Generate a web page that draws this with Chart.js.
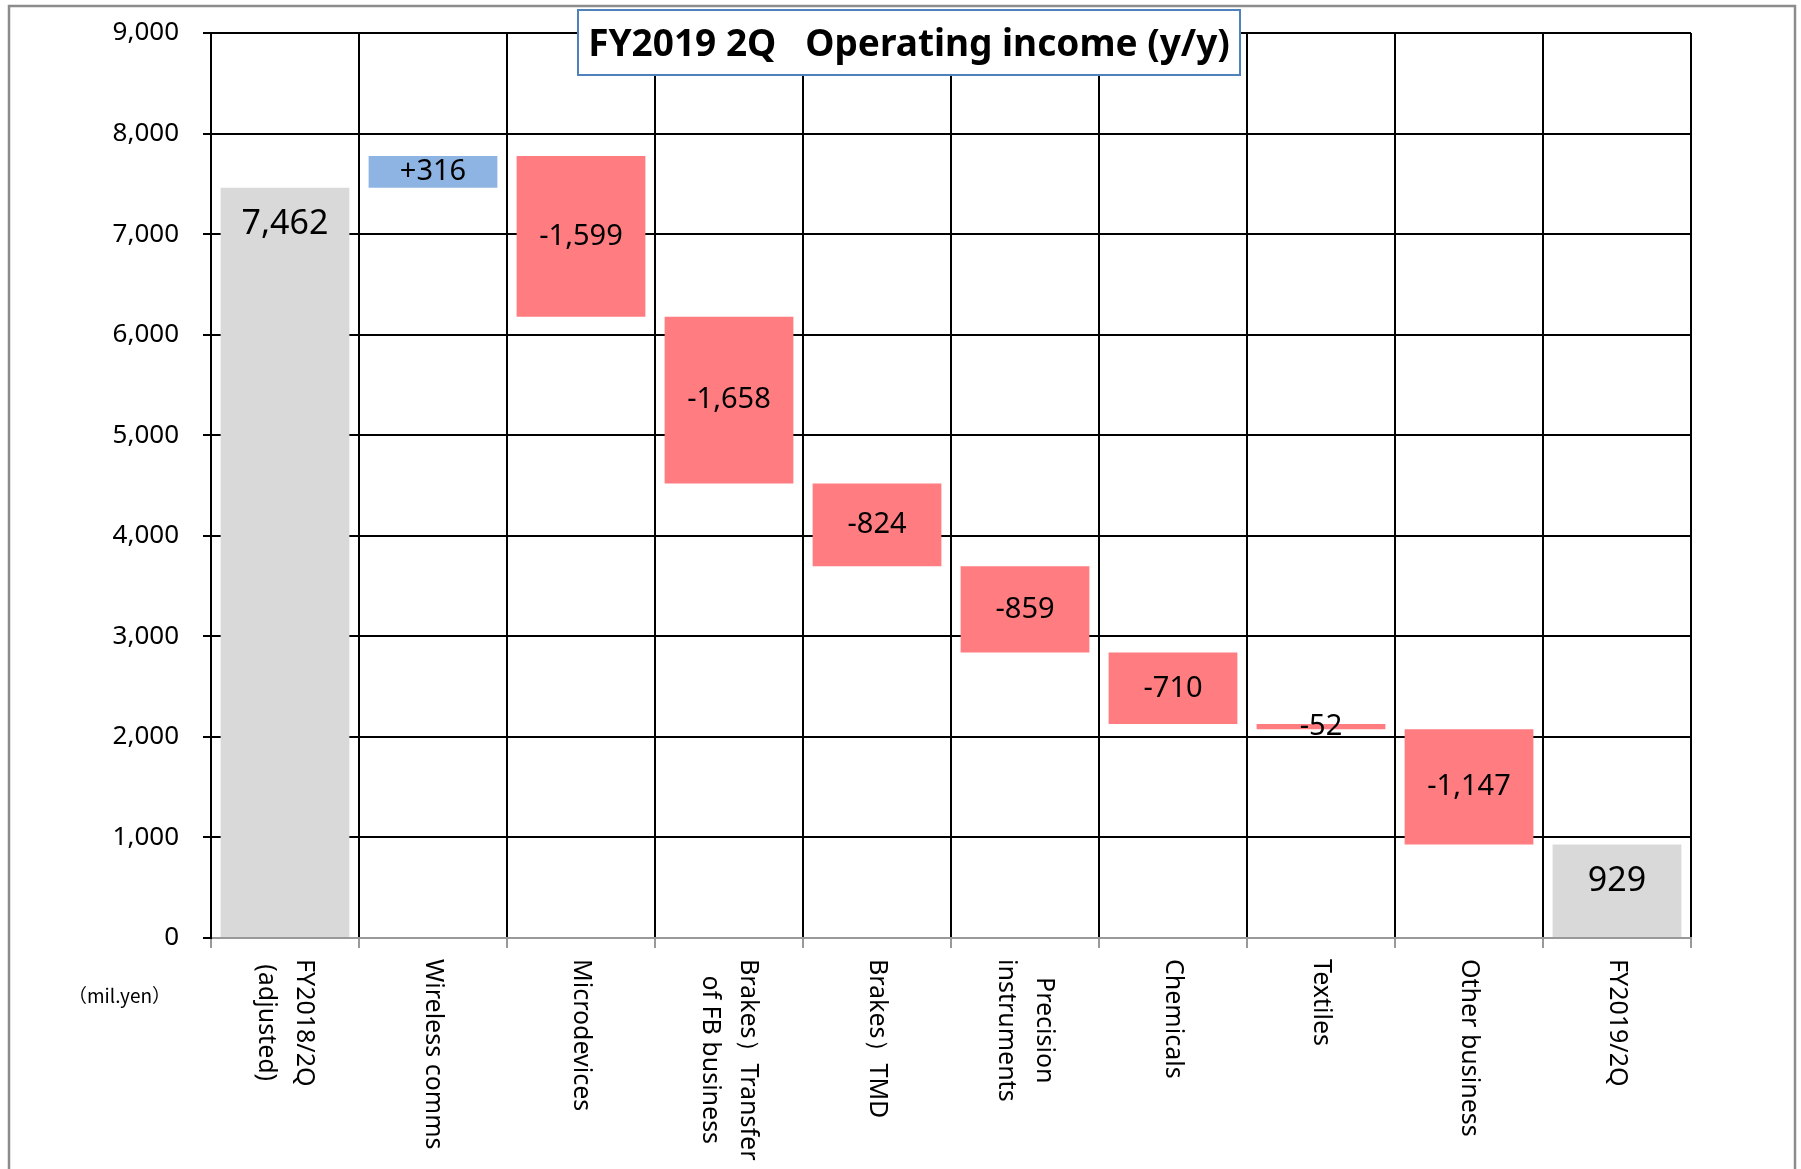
<!DOCTYPE html>
<html>
<head>
<meta charset="utf-8">
<script src="https://cdn.jsdelivr.net/npm/chart.js@4.4.1/dist/chart.umd.min.js"></script>
<style>
  html,body{margin:0;padding:0;background:#fff;}
  #wrap{width:1801px;height:1169px;position:relative;}
</style>
</head>
<body>
<div id="wrap"><canvas id="wf" width="1801" height="1169"></canvas></div>
<script>
// 카테고리 / 값
const categories=[['FY2018/2Q','(adjusted)'],['Wireless comms'],['Microdevices'],['Brakes）Transfer','of FB business'],['Brakes）TMD'],['Precision','instruments'],['Chemicals'],['Textiles'],['Other business'],['FY2019/2Q']];
const values=[7462,316,-1599,-1658,-824,-859,-710,-52,-1147,929];
const isTotal=[true,false,false,false,false,false,false,false,false,true];
const yTicks=[0,1000,2000,3000,4000,5000,6000,7000,8000,9000];

const GREY='#D9D9D9',BLUE='#8DB4E2',RED='#FF7C80';
const FONT='"Noto Sans", "Open Sans", sans-serif';

// 워터폴 구간
let run=0;
const ranges=values.map((v,i)=>{
  if(isTotal[i]){run=v;return [0,v];}
  const r=[run,run+v];run+=v;return [Math.min(r[0],r[1]),Math.max(r[0],r[1])];
});
const colors=values.map((v,i)=>isTotal[i]?GREY:(v>0?BLUE:RED));
const labelTxt=values.map((v,i)=>isTotal[i]?v.toLocaleString('en-US'):(v>0?'+':'-')+Math.abs(v).toLocaleString('en-US'));

const frame={id:'frame',beforeDraw(c){
  const g=c.ctx;g.save();g.fillStyle='#fff';g.fillRect(0,0,c.width,c.height);
  g.strokeStyle='#8c8c8c';g.lineWidth=2.5;g.strokeRect(9,6,1786,1250);g.restore();
}};

const overlay={id:'overlay',afterDraw(c){
  const g=c.ctx,xs=c.scales.x,meta=c.getDatasetMeta(0);
  g.save();
  // 막대 라벨
  g.fillStyle='#000';g.textAlign='center';g.textBaseline='middle';
  meta.data.forEach((b,i)=>{
    const top=Math.min(b.y,b.base),bot=Math.max(b.y,b.base);
    if(isTotal[i]){g.font='34px '+FONT;g.fillText(labelTxt[i],b.x,top+37);}
    else{g.font='29px '+FONT;g.fillText(labelTxt[i],b.x,(top+bot)/2);}
  });
  // x 라벨 (세로)
  g.font='25px '+FONT;
  categories.forEach((lines,i)=>{
    const x=xs.getPixelForValue(i),lh=38;
    const w=Math.max(...lines.map(l=>g.measureText(l).width));
    g.save();g.translate(x,959);g.rotate(Math.PI/2);
    lines.forEach((l,j)=>g.fillText(l,w/2,(j-(lines.length-1)/2)*lh));
    g.restore();
  });
  // 단위
  g.font='19px "Noto Sans CJK JP", '+FONT;g.textAlign='left';
  g.fillText('（mil.yen）',68,996);
  // 제목
  g.fillStyle='#fff';g.fillRect(578,10,662,65);
  g.strokeStyle='#4F81BD';g.lineWidth=2;g.strokeRect(578,10,662,65);
  g.fillStyle='#000';g.font='bold 37px '+FONT;g.textAlign='center';
  g.fillText('FY2019 2Q   Operating income (y/y)',909,45);
  g.restore();
}};

new Chart(document.getElementById('wf'),{type:'bar',
  data:{labels:categories.map(l=>l.join(' ')),
    datasets:[{data:ranges,backgroundColor:colors,borderWidth:0,barPercentage:0.87,categoryPercentage:1}]},
  options:{responsive:false,animation:false,devicePixelRatio:1,
    layout:{padding:{left:0,top:33,right:110,bottom:0}},
    plugins:{legend:{display:false},tooltip:{enabled:false}},
    scales:{
      x:{grid:{offset:true,color:'#000',lineWidth:2,tickColor:'#999',tickLength:10},
        border:{color:'#999',width:2},ticks:{display:false},
        afterFit:s=>{s.height=231;s.paddingLeft=0;s.paddingRight=0;}},
      y:{min:0,max:9000,afterBuildTicks:s=>{s.ticks=yTicks.map(v=>({value:v}));},
        grid:{color:ctx=>ctx.tick&&ctx.tick.value===0?'#999':'#000',lineWidth:2,tickColor:'#000',tickLength:8},
        border:{color:'#000',width:2},
        ticks:{padding:24,color:'#000',font:{family:FONT,size:26},callback:v=>v.toLocaleString('en-US')},
        afterFit:s=>{s.width=211;s.paddingTop=0;s.paddingBottom=0;}}
    }
  },
  plugins:[frame,overlay]
});
</script>
</body>
</html>
